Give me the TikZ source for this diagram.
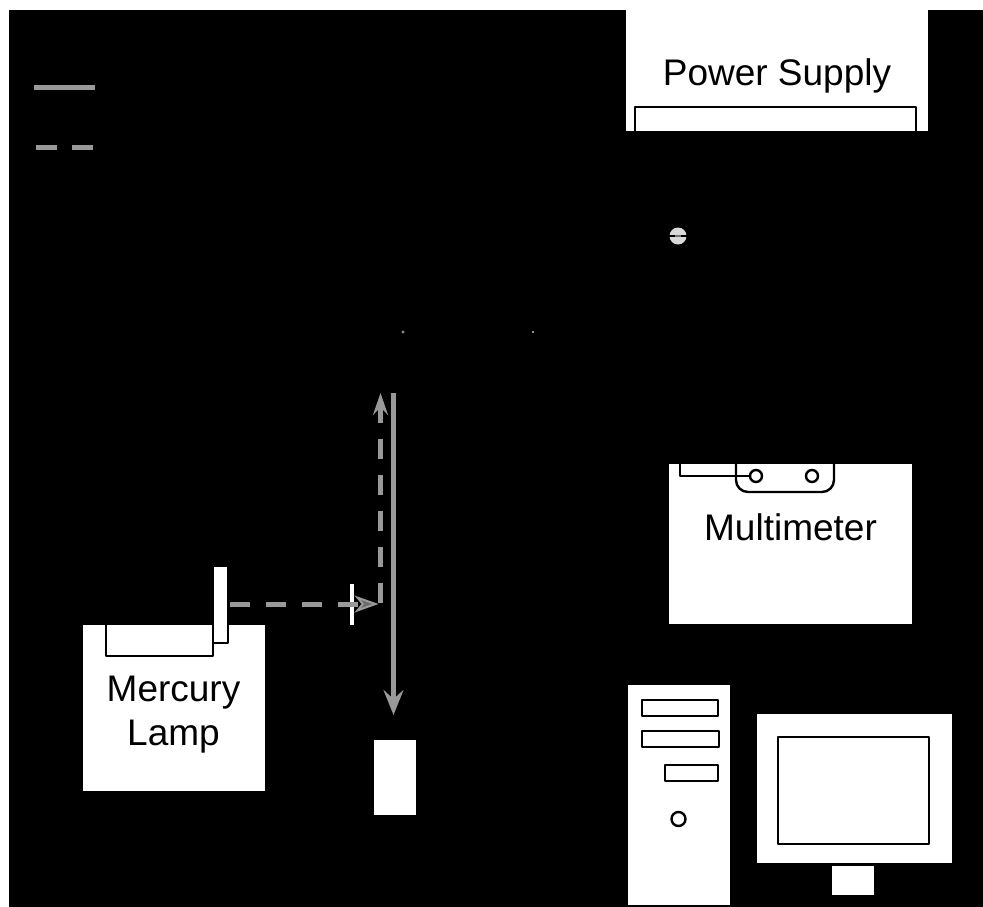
\documentclass[tikz,border=0pt]{standalone}
\usepackage{fontspec}
\setmainfont{Liberation Sans}
\usetikzlibrary{arrows.meta}
\definecolor{beam}{gray}{0.6}
\definecolor{beamdark}{gray}{0.42}
\tikzset{
  panel/.style={fill=white,draw=none,inner sep=0pt},
  ink/.style={draw=black,line width=2.4pt,line join=round},
  label/.style={font=\fontsize{37}{44}\selectfont,text=black,inner sep=0pt,align=center},
  solidbeam/.style={draw=beam,line width=5pt},
  dashbeam/.style={draw=beam,line width=5pt,dash pattern=on 20pt off 16pt},
  tipS/.style={-{Stealth[length=25pt,width=20pt,inset=9pt,fill=beam]}},
  tipD/.style={-{Stealth[length=22pt,width=15pt,inset=8pt,fill=beam]}},
  tipH/.style={-{Stealth[length=24pt,width=17pt,inset=7pt,fill=beamdark,line width=2pt]}},
}
\begin{document}
\begin{tikzpicture}[x=1pt,y=-1pt]
\useasboundingbox (0,0) rectangle (983,907);
\fill[white] (0,0) rectangle (983,907);
\fill[black] (9,10) rectangle (983,907);
% legend
\coordinate (la) at (34,88); \coordinate (lb) at (95,88);
\coordinate (lc) at (36,147); \coordinate (ld) at (93,147);
\draw[solidbeam] (la) -- (lb);
\draw[draw=beam,line width=5pt,dash pattern=on 21pt off 15pt] (lc) -- (ld);
% power supply
\node[panel,minimum width=302pt,minimum height=121pt] (psu) at (777,70.5) {};
\node[label] (psut) at (777,76) {Power Supply};
\draw[ink] (635,131) -- (635,107) -- (916,107) -- (916,131);
% junction dot
\node[circle,fill=black!15,minimum size=17pt,inner sep=0pt] (jd) at (678,236) {};
\draw[black,line width=2.2pt] (669,236) -- (675,236) (681,236) -- (687,236);
\draw[black!55,line width=1.5pt] (675,236) -- (681,236);
% small points
\fill[black!45] (403,332) circle (1.6pt);
\fill[black!25] (533,332) circle (1.2pt);
% mercury lamp
\node[panel,minimum width=182pt,minimum height=166pt] (lamp) at (174,708) {};
\node[label] (lampt) at (173.5,715) {Mercury\\[0pt]Lamp};
\node[panel,minimum width=13pt,minimum height=75pt] (shut) at (220.5,604.5) {};
\draw[ink] (106,625) -- (106,656) -- (213,656) -- (213,625);
\draw[ink] (213,643) -- (228,643) -- (228,625);
% beams
\coordinate (b1) at (230,604); \coordinate (b2) at (378.5,604);
\coordinate (b3) at (380.5,603); \coordinate (b4) at (380.5,393);
\coordinate (v1) at (393.5,393); \coordinate (v2) at (393.5,715);
\draw[dashbeam,tipH] (b1) -- (b2);
\draw[dashbeam,tipD] (b3) -- (b4);
\draw[solidbeam,tipS] (v1) -- (v2);
\node[panel,minimum width=4.5pt,minimum height=41pt] (slit) at (352,604.5) {};
\draw[beam,line width=5pt] (350,604) -- (354,604);
% detector
\node[panel,minimum width=42pt,minimum height=75pt] (det) at (395,777.5) {};
% multimeter
\node[panel,minimum width=243pt,minimum height=160pt] (mm) at (790.5,544) {};
\node[label] (mmt) at (790.5,527) {Multimeter};
\draw[ink,rounded corners=12pt] (736,463) -- (736,492) -- (834,492) -- (834,463);
\node[circle,draw=black,line width=2.4pt,fill=white,minimum size=12pt,inner sep=0pt] (m1) at (756,476) {};
\node[circle,draw=black,line width=2.4pt,fill=white,minimum size=12pt,inner sep=0pt] (m2) at (812,476) {};
\coordinate (w) at (680,464);
\draw[ink] (w) -- (680,476) -- (m1.west);
% tower
\node[panel,minimum width=102pt,minimum height=220pt] (tower) at (679,795) {};
\draw[ink] (642,700) rectangle (718,716);
\draw[ink] (642,731) rectangle (719,747);
\draw[ink] (665,765) rectangle (718,781);
\node[circle,draw=black,line width=2.4pt,minimum size=14pt,inner sep=0pt] (pw) at (678.5,819) {};
% monitor
\node[panel,minimum width=195pt,minimum height=149pt] (mon) at (854.5,788.5) {};
\draw[ink] (778,737) rectangle (929,844);
\node[panel,minimum width=42pt,minimum height=29pt] (stand) at (853,880) {};
\end{tikzpicture}
\end{document}
